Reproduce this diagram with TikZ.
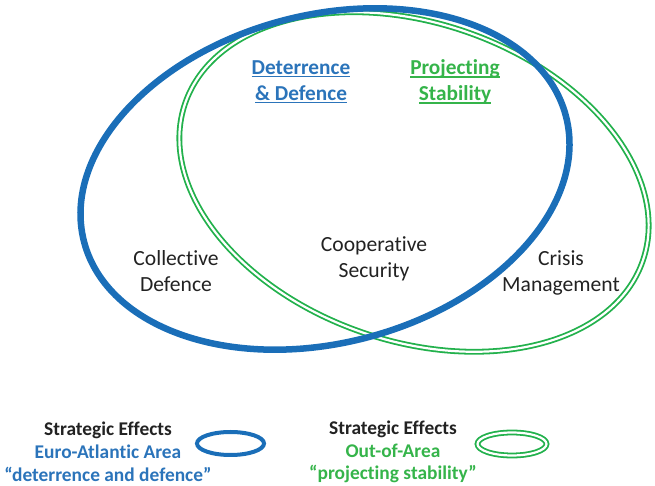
\documentclass[tikz,border=0pt]{standalone}
\usepackage{fontspec}
\setmainfont{Carlito}[Ligatures={TeX,NoCommon}]
\newsavebox{\ulholder}
\newcommand{\myul}[1]{\sbox{\ulholder}{#1}\rlap{\rule[-3pt]{\wd\ulholder}{1.4pt}}\usebox{\ulholder}}
\definecolor{natoblue}{HTML}{1A6EB8}
\definecolor{natogreen}{HTML}{22B14C}
\definecolor{bluetext}{HTML}{2B74BA}
\definecolor{greentext}{HTML}{35B44A}
\definecolor{labeltext}{HTML}{222222}
\begin{document}
\begin{tikzpicture}[x=1pt,y=1pt,
  blueoval/.style={draw=natoblue, line width=6.5pt},
  greenoval/.style={draw=natogreen, double=white, double distance=2.2pt, line width=1.8pt},
  smallblue/.style={draw=natoblue, line width=4pt},
  smallgreen/.style={draw=natogreen, double=white, double distance=2.2pt, line width=1.8pt},
  area/.style={font=\fontsize{21.6}{26}\selectfont, text=labeltext, align=center, inner sep=0pt},
  headline/.style={font=\bfseries\fontsize{21.3}{26}\selectfont, align=center, inner sep=0pt},
  legendtext/.style={font=\bfseries\fontsize{19.4}{22.8}\selectfont, align=center, inner sep=0pt}]
\useasboundingbox (0,0) rectangle (655,486);
% main ellipses
\draw[greenoval, rotate around={-19:(414,304)}] (414,304) ellipse [x radius=242pt, y radius=159pt];
\draw[blueoval, rotate around={14.6:(325,307)}] (325,307) ellipse [x radius=249pt, y radius=164pt];
% headings
\node[headline, text=bluetext] (dd) at (301,404) {\myul{Deterrence}\\\myul{\&~Defence}};
\node[headline, text=greentext] (ps) at (455,404) {\myul{Projecting}\\\myul{Stability}};
% areas
\node[area] (cd) at (176,215) {Collective\\Defence};
\node[area] (cs) at (374,227) {Cooperative\\Security};
\node[area] (cm) at (561,213) {Crisis\\Management};
% legend
\node[legendtext] (lb) at (108,34) {\textcolor{labeltext}{Strategic Effects}\\\textcolor{bluetext}{Euro-Atlantic Area}\\\textcolor{bluetext}{“deterrence and defence”}};
\draw[smallblue] (230.5,42.5) ellipse [x radius=33.5pt, y radius=11.5pt];
\node[legendtext] (lg) at (393,34) {\textcolor{labeltext}{Strategic Effects}\\\textcolor{greentext}{Out-of-Area}\\\textcolor{greentext}{“projecting stability”}};
\draw[smallgreen] (512,42) ellipse [x radius=34.5pt, y radius=11.5pt];
\end{tikzpicture}
\end{document}
